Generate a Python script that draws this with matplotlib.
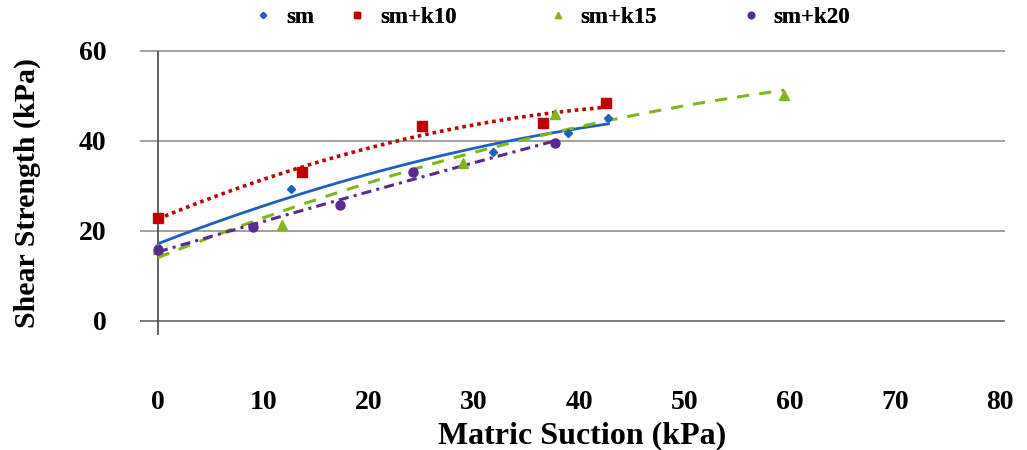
import numpy as np
import matplotlib
matplotlib.use("Agg")
import matplotlib.pyplot as plt

# data (kPa)
sm_x = [0, 12.6, 31.8, 39.0, 42.8]
sm_y = [16.4, 29.3, 37.6, 41.8, 45.1]

k10_x = [0, 13.7, 25.1, 36.6, 42.6]
k10_y = [22.9, 33.1, 43.3, 44.0, 48.4]

k15_x = [0, 11.8, 29.0, 37.7, 59.5]
k15_y = [16.0, 21.3, 35.0, 46.0, 50.2]

k20_x = [0, 9.0, 17.3, 24.2, 37.7]
k20_y = [15.8, 20.9, 25.8, 33.1, 39.6]

x_ticks = [0, 10, 20, 30, 40, 50, 60, 70, 80]
y_ticks = [0, 20, 40, 60]

plt.rcParams['font.family'] = ['Liberation Serif', 'DejaVu Serif']
plt.rcParams['font.weight'] = 'bold'

fig = plt.figure(figsize=(10.27, 4.5), dpi=100)
ax = fig.add_axes([0.1538, 0.2867, 0.8199, 0.6])
ax.set_xlim(0, 80)
ax.set_ylim(0, 60)
for s in ax.spines.values():
    s.set_visible(False)

# horizontal gridlines (with the outward tick stubs on the left)
for yv in y_ticks:
    ax.hlines(yv, -1.7, 80.5, color='#9a9a9a' if yv else '#707070',
              lw=1.3, clip_on=False, zorder=1)
ax.vlines(0, -3.2, 60, color='#555555', lw=1.3, clip_on=False, zorder=1)

# name, colour, marker, marker size, line style
series = [
    (sm_x, sm_y, 'sm', '#1f5fbf', 'D', 4.5, dict(linestyle='-', lw=2.0)),
    (k10_x, k10_y, 'sm+k10', '#c00000', 's', 7, dict(linestyle=(0, (1, 1.1)), lw=2.6)),
    (k15_x, k15_y, 'sm+k15', '#7fb51f', '^', 6.5, dict(linestyle=(0, (4, 3.3)), lw=2.2)),
    (k20_x, k20_y, 'sm+k20', '#5b2a8e', 'o', 6.5, dict(linestyle=(0, (3.3, 1.7, 1, 1.7)), lw=2.2)),
]

handles = []
for xs, ys, name, col, mk, ms, ls in series:
    h, = ax.plot(xs, ys, linestyle='none', marker=mk, ms=ms, color=col,
                 label=name, zorder=3, clip_on=False)
    handles.append(h)
    # 2nd order polynomial trend line, as in the spreadsheet
    c = np.polyfit(xs, ys, 2)
    xx = np.linspace(min(xs), max(xs), 200)
    ax.plot(xx, np.polyval(c, xx), color=col, zorder=2, **ls)

ax.set_xticks(x_ticks)
ax.set_yticks(y_ticks)
ax.tick_params(axis='both', length=0, labelsize=20)
ax.tick_params(axis='x', pad=50)
ax.tick_params(axis='y', pad=37)
for lab in ax.get_xticklabels() + ax.get_yticklabels():
    lab.set_fontweight('bold')

fig.text(0.567, 0.016, 'Matric Suction (kPa)', fontsize=23, fontweight='bold',
         ha='center', va='baseline')
fig.text(0.027, 0.571, 'Shear Strength (kPa)', fontsize=21.5, fontweight='bold',
         ha='center', va='center', rotation=90)

# legend entries spread along the top like the spreadsheet legend
leg_x = [0.247, 0.339, 0.534, 0.722]
for h, lx in zip(handles, leg_x):
    leg = fig.legend(handles=[h], loc='center left', bbox_to_anchor=(lx, 0.962),
                     frameon=False, fontsize=16.5, markerscale=0.7,
                     handlelength=0.8, handletextpad=0.6, borderpad=0,
                     borderaxespad=0)
    for t in leg.get_texts():
        t.set_fontweight('bold')
    fig.add_artist(leg)

fig.savefig('out.png', dpi=100)
